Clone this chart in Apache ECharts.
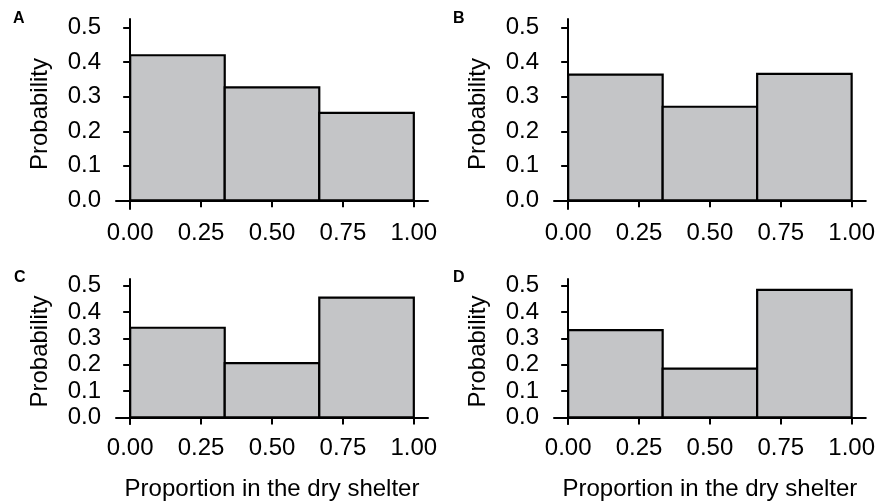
<!DOCTYPE html>
<html>
<head>
<meta charset="utf-8">
<script src="https://cdn.jsdelivr.net/npm/echarts@6/dist/echarts.min.js"></script>
<style>
  html, body { margin: 0; padding: 0; background: #fff; }
  #chart { width: 878px; height: 504px; }
</style>
</head>
<body>
<div id="chart"></div>
<script>
// 直方图的分箱边界 (3 bins on [0, 1])
var binEdges = [0, 1 / 3, 2 / 3, 1];
// 每个面板的概率
var probA = [0.420, 0.327, 0.253];
var probB = [0.364, 0.271, 0.366];
var probC = [0.340, 0.206, 0.454];
var probD = [0.331, 0.185, 0.484];
var panelLabels = ['A', 'B', 'C', 'D'];
var xTicks = [0, 0.25, 0.5, 0.75, 1];
var yTicks = [0, 0.1, 0.2, 0.3, 0.4, 0.5];
var yTitle = 'Probability';
var xTitle = 'Proportion in the dry shelter';

var font = 'Liberation Sans, Arial, Helvetica, sans-serif';
var panels = [probA, probB, probC, probD];

// 面板位置
var grids = [
    { left: 116, top: 19, width: 312, height: 190 },
    { left: 554, top: 19, width: 314, height: 190 },
    { left: 116, top: 279, width: 312, height: 145 },
    { left: 554, top: 279, width: 314, height: 145 },
];

var axisLine = { show: true, lineStyle: { color: '#000', width: 2 } };
var axisTick = { show: true, length: 7, lineStyle: { color: '#000', width: 2 } };

var xAxes = [];
var yAxes = [];
var series = [];
for (let i = 0; i < 4; i++) {
    xAxes.push({
        gridIndex: i,
        type: 'value',
        min: -0.05,
        max: 1.05,
        axisLine: axisLine,
        axisTick: Object.assign({ customValues: xTicks }, axisTick),
        axisLabel: {
            customValues: xTicks,
            color: '#000',
            fontFamily: font,
            fontSize: 24,
            margin: 12,
            formatter: function (v) {
                return v.toFixed(2);
            },
        },
        splitLine: { show: false },
        name: i >= 2 ? xTitle : '',
        nameLocation: 'middle',
        nameGap: 53,
        nameTextStyle: { color: '#000', fontFamily: font, fontSize: 24 },
    });
    yAxes.push({
        gridIndex: i,
        type: 'value',
        min: -0.025,
        max: 0.525,
        axisLine: axisLine,
        axisTick: Object.assign({ customValues: yTicks }, axisTick),
        axisLabel: {
            customValues: yTicks,
            color: '#000',
            fontFamily: font,
            fontSize: 24,
            margin: 15,
            formatter: function (v) {
                return v.toFixed(1);
            },
        },
        splitLine: { show: false },
        name: yTitle,
        nameLocation: 'middle',
        nameGap: 64,
        nameTextStyle: { color: '#000', fontFamily: font, fontSize: 24 },
    });
    var data = [];
    for (let k = 0; k < panels[i].length; k++) {
        data.push([binEdges[k], binEdges[k + 1], panels[i][k]]);
    }
    series.push({
        type: 'custom',
        xAxisIndex: i,
        yAxisIndex: i,
        data: data,
        encode: { x: [0, 1], y: 2 },
        renderItem: function (params, api) {
            var p0 = api.coord([api.value(0), 0]);
            var p1 = api.coord([api.value(1), api.value(2)]);
            return {
                type: 'rect',
                shape: { x: p0[0], y: p1[1], width: p1[0] - p0[0], height: p0[1] - p1[1] },
                style: { fill: '#c4c5c7', stroke: '#000', lineWidth: 2.2 },
            };
        },
    });
}

// 面板标签
var labelPos = [[13, 11], [453, 11], [14, 270], [453, 270]];
var graphic = [];
for (let i = 0; i < 4; i++) {
    graphic.push({
        type: 'text',
        left: labelPos[i][0],
        top: labelPos[i][1],
        style: { text: panelLabels[i], fill: '#000', font: 'bold 16px ' + font },
    });
}

var chart = echarts.init(document.getElementById('chart'));
chart.setOption({
    animation: false,
    backgroundColor: '#fff',
    grid: grids,
    xAxis: xAxes,
    yAxis: yAxes,
    series: series,
    graphic: graphic,
});
</script>
</body>
</html>
